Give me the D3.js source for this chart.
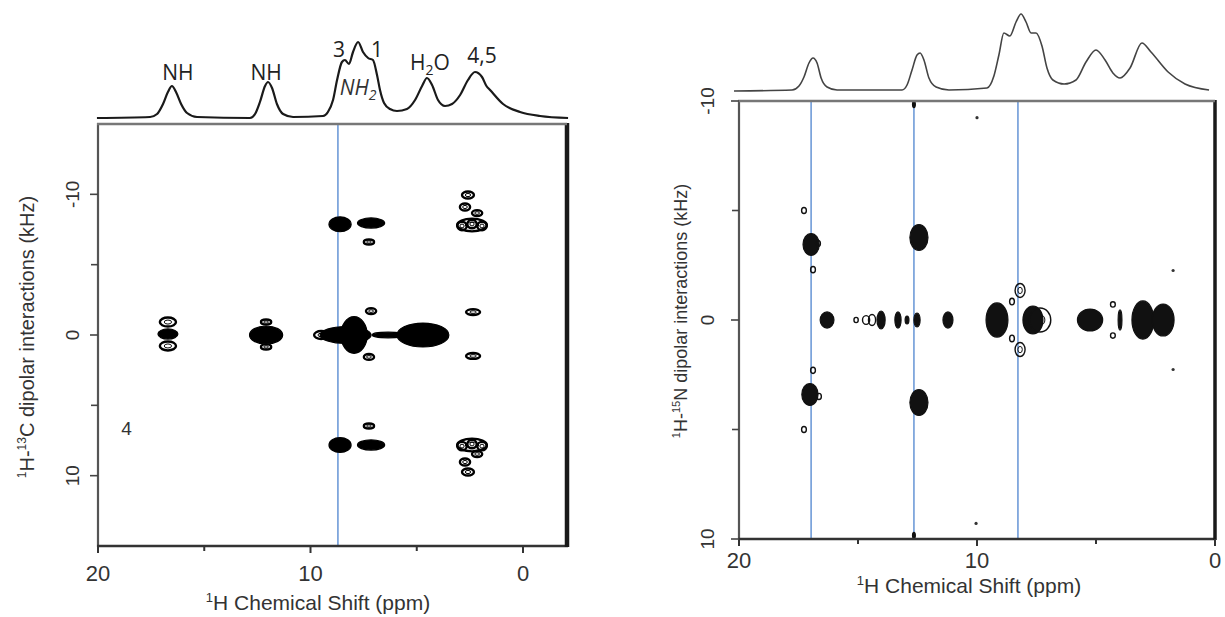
<!DOCTYPE html>
<html><head><meta charset="utf-8">
<script src="https://cdn.jsdelivr.net/npm/d3@7"></script>
<style>body{margin:0;background:#fff}svg{display:block}</style>
</head><body><svg id="c" width="1225" height="617"></svg>
<script>
// ---------- DATA ----------
// Left panel 1D 1H projection (ppm, arbitrary intensity)
const specLPpm = [20.05,17.55,17.22,16.94,16.71,16.52,16.33,16.09,15.81,15.34,12.85,12.61,12.38,12.14,12.0,11.81,11.58,11.29,10.82,9.41,9.18,8.94,8.75,8.52,8.38,8.19,8.0,7.76,7.53,7.29,7.06,6.87,6.73,6.54,6.26,5.93,5.46,5.08,4.75,4.52,4.28,4.0,3.67,3.34,2.96,2.59,2.26,1.93,1.72,1.55,0.94,0.14,-0.8,-2.12];
const specLInt = [0,1,4,14,26,32,26,14,5,1,0,4,16,32,36,30,14,4,1,2,6,18,38,56,58,54,66,76,66,60,58,43,28,15,9,7,9,18,32,40,33,18,12,14,23,38,46,41,32,28,14,6,2,0];
// Right panel 1D projection
const specRPpm = [20.21,17.77,17.48,17.27,17.06,16.89,16.72,16.55,16.3,15.88,13.15,12.94,12.73,12.52,12.39,12.23,12.02,11.72,11.18,9.58,9.29,9.08,8.87,8.62,8.36,8.15,7.94,7.73,7.52,7.27,7.06,6.81,6.34,5.84,5.42,5.0,4.62,4.29,3.99,3.57,3.07,2.69,1.97,1.26,0.25];
const specRInt = [0,1,5,14,28,33,28,13,4,1,1,6,21,36,38,31,13,4,1,3,15,36,58,55,69,77,69,58,58,45,23,11,7,11,29,41,31,18,13,23,48,39,19,7,1];

// Peak labels (left projection): text, ppm, label height (intensity units)
const labelText = ["NH","NH","3","1","NH2","H2O","4,5"];
const labelPpm  = [16.24,12.09,8.66,6.87,7.76,4.38,1.93];
const labelInt  = [38,38,61,61,23,48,55];

// 2D contours: [ppm, kHz, half-width ppm, half-height kHz]
const leftFilled = [
  [8.61,-7.87,0.52,0.53],[7.15,-7.96,0.64,0.36],[8.61,7.82,0.52,0.53],[7.15,7.82,0.64,0.36],
  [12.09,0,0.78,0.64],[8.35,0,1.2,0.6],[7.95,0,0.62,1.3],[6.35,0,0.75,0.2],[4.71,0,1.22,0.85],
  [16.71,-0.07,0.47,0.36]
];
const leftRings = [
  [7.25,-6.61,0.24,0.18],[7.25,6.47,0.24,0.18],
  [2.59,-9.95,0.28,0.25],[2.73,-9.1,0.24,0.25],[2.16,-8.67,0.24,0.21],[2.4,-7.82,0.7,0.45],
  [2.87,-7.75,0.22,0.3],[2.4,-7.89,0.22,0.3],[1.93,-7.75,0.22,0.3],
  [2.59,9.74,0.28,0.25],[2.73,9.03,0.24,0.25],[2.16,8.46,0.24,0.21],[2.4,7.82,0.7,0.45],
  [2.87,7.9,0.22,0.3],[2.4,7.75,0.22,0.3],[1.93,7.9,0.22,0.3],
  [16.71,-0.92,0.38,0.32],[16.71,0.78,0.38,0.32],
  [12.09,-0.92,0.24,0.18],[12.09,0.85,0.24,0.18],
  [9.5,0,0.33,0.28],
  [7.15,-1.7,0.24,0.21],[7.25,1.56,0.24,0.21],
  [2.35,-1.63,0.33,0.21],[2.35,1.49,0.33,0.21]
];
const rightFilled = [
  [16.3,0,0.29,0.37],[14.03,0,0.17,0.41],[13.32,0,0.13,0.37],[12.94,0,0.08,0.18],[12.52,0,0.13,0.32],
  [11.22,0,0.21,0.37],[9.16,0,0.46,0.78],[7.65,0,0.42,0.64],[5.25,0,0.53,0.5],[3.99,0,0.08,0.46],
  [3.03,0,0.46,0.87],[2.18,0,0.46,0.73],
  [16.97,-3.45,0.34,0.5],[17.02,3.4,0.34,0.5],[12.44,-3.77,0.38,0.59],[12.44,3.77,0.38,0.59],
  [12.65,-9.84,0.06,0.14],[12.65,9.84,0.06,0.14]
];
const rightRings = [
  [15.08,0,0.09,0.12],[14.66,0,0.15,0.2],[14.41,0,0.15,0.25],[7.35,0,0.45,0.55],
  [8.53,-0.84,0.1,0.15],[8.53,0.84,0.1,0.15],[8.19,-1.35,0.21,0.32],[8.19,1.35,0.21,0.32],
  [4.29,-0.71,0.1,0.12],[4.29,0.71,0.1,0.12],
  [17.27,-5.0,0.1,0.14],[16.68,-3.49,0.1,0.14],[16.89,-2.3,0.1,0.14],
  [16.89,2.3,0.1,0.14],[16.64,3.49,0.1,0.14],[17.27,5.0,0.1,0.14]
];
const rightDots = [[1.76,-2.26],[1.76,2.26],[10.0,-9.24],[10.04,9.29]];

const leftGuides = [8.71];
const rightGuides = [16.97,12.65,8.28];

const xMajor = [20,10,0];
const xMinor = [15,5];
const yMajorLeft = [-10,0,10];
const yMajorRight = [-10,0,10];
const yMinor = [-5,5];

// ---------- DRAW ----------
const svg = d3.select("#c");
const AX = "'Liberation Sans', Arial, sans-serif";
const LB = "'Open Sans', 'Noto Sans', sans-serif";

function drawPanel(o) {
  const g = svg.append("g");
  const x = o.x, y = o.y;
  const [x0, x1] = x.range(), [y0, y1] = y.range();

  g.selectAll(".guide").data(o.guides).join("line")
    .attr("x1", d => x(d)).attr("x2", d => x(d))
    .attr("y1", y0 - 1).attr("y2", y1)
    .attr("stroke", "#6f9bd8").attr("stroke-width", 1.6);

  const ell = (sel, d) => sel
    .attr("cx", x(d[0])).attr("cy", y(d[1]))
    .attr("rx", Math.abs(x(d[0] + d[2]) - x(d[0])))
    .attr("ry", Math.abs(y(d[1] + d[3]) - y(d[1])));

  g.selectAll(".f").data(o.filled).join("ellipse")
    .each(function(d){ ell(d3.select(this), d); })
    .attr("fill", o.ink).attr("stroke", o.ink).attr("stroke-width", 1.2);
  g.selectAll(".r").data(o.rings).join("ellipse")
    .each(function(d){ ell(d3.select(this), d); })
    .attr("fill", "none").attr("stroke", o.ink).attr("stroke-width", o.ringW);
  g.selectAll(".ri").data(o.rings.filter(d => Math.abs(x(d[0]+d[2])-x(d[0])) > 4)).join("ellipse")
    .each(function(d){ ell(d3.select(this), [d[0], d[1], d[2]*0.45, d[3]*0.45]); })
    .attr("fill", "none").attr("stroke", o.ink).attr("stroke-width", 1);
  g.selectAll(".dt").data(o.dots).join("circle")
    .attr("cx", d => x(d[0])).attr("cy", d => y(d[1])).attr("r", 1.6).attr("fill", "#333");

  // frame
  g.append("line").attr("x1", x0).attr("x2", x0).attr("y1", y0 - 1).attr("y2", y1 + 1).attr("stroke", "#555").attr("stroke-width", 2.2);
  g.append("line").attr("x1", x0 - 1).attr("x2", x1 + 1).attr("y1", y1).attr("y2", y1).attr("stroke", "#333").attr("stroke-width", 2.5);
  g.append("line").attr("x1", x1).attr("x2", x1).attr("y1", y0 - 1).attr("y2", y1 + 1).attr("stroke", "#1a1a1a").attr("stroke-width", o.rightW);
  g.append("line").attr("x1", x0 - 1).attr("x2", x1).attr("y1", y0).attr("y2", y0).attr("stroke", "#777").attr("stroke-width", 2.5);

  // ticks
  g.selectAll(".xt").data(xMajor.concat(xMinor)).join("line")
    .attr("x1", d => x(d)).attr("x2", d => x(d)).attr("y1", y1).attr("y2", d => y1 + (xMajor.includes(d) ? 7 : 5))
    .attr("stroke", "#333").attr("stroke-width", 2);
  g.selectAll(".yt").data(o.yMajor.concat(yMinor)).join("line")
    .attr("y1", d => y(d)).attr("y2", d => y(d)).attr("x1", x0).attr("x2", d => x0 - (o.yMajor.includes(d) ? 8 : 7))
    .attr("stroke", "#444").attr("stroke-width", 1.6);

  // tick labels
  g.selectAll(".xl").data(xMajor).join("text")
    .attr("x", d => x(d)).attr("y", o.xLabY).attr("text-anchor", "middle")
    .attr("font-family", AX).attr("font-size", 22).attr("fill", "#333").text(d => d);
  g.selectAll(".yl").data(o.yMajor).join("text")
    .attr("transform", d => `translate(${o.yLabX},${y(d)}) rotate(-90)`).attr("text-anchor", "middle")
    .attr("font-family", AX).attr("font-size", 19).attr("fill", "#333").text(d => d);

  // axis titles
  const xt = g.append("text").attr("x", o.xTitleX).attr("y", o.xTitleY).attr("text-anchor", "middle")
    .attr("font-family", AX).attr("font-size", 21).attr("fill", "#333");
  xt.append("tspan").attr("font-size", 13).attr("dy", -8).text("1");
  xt.append("tspan").attr("dy", 8).text("H Chemical Shift (ppm)");

  const yt = g.append("text").attr("transform", `translate(${o.yTitleX},${o.yTitleY}) rotate(-90)`)
    .attr("text-anchor", "middle").attr("font-family", AX).attr("font-size", o.yTitleSize).attr("fill", "#333");
  const ss = Math.round(o.yTitleSize * 0.6), sh = Math.round(o.yTitleSize * 0.38);
  yt.append("tspan").attr("font-size", ss).attr("dy", -sh).text("1");
  yt.append("tspan").attr("dy", sh).text("H-");
  yt.append("tspan").attr("font-size", ss).attr("dy", -sh).text(o.nucMass);
  yt.append("tspan").attr("dy", sh).text(o.nuc + " dipolar interactions (kHz)");

  // projection spectrum
  const ys = o.ySpec;
  const pts = o.specPpm.map((p, i) => [x(p), ys(o.specInt[i])]);
  g.append("path").attr("d", d3.line().curve(d3.curveMonotoneX)(pts))
    .attr("fill", "none").attr("stroke", o.specColor).attr("stroke-width", o.specW);
  return g;
}

// Left panel
const xL = d3.scaleLinear([20, -2.07], [98, 567]);
const yL = d3.scaleLinear([-15, 15], [124, 546]);
const ySpecL = d3.scaleLinear([0, 80], [118, 38]);
const gL = drawPanel({
  x: xL, y: yL, guides: leftGuides, filled: leftFilled, rings: leftRings, dots: [],
  ink: "#000", ringW: 2.4, rightW: 4.5, yMajor: yMajorLeft,
  xLabY: 581, yLabX: 79, xTitleX: 318, xTitleY: 610,
  yTitleX: 34, yTitleY: 337, yTitleSize: 20, nucMass: "13", nuc: "C",
  ySpec: ySpecL, specPpm: specLPpm, specInt: specLInt, specColor: "#1a1a1a", specW: 2.2
});
gL.append("text").attr("x", xL(18.66)).attr("y", yL(7.1)).attr("text-anchor", "middle")
  .attr("font-family", AX).attr("font-size", 19).attr("fill", "#333").text("4");

const labG = gL.append("g").attr("font-family", LB).attr("font-size", 21).attr("fill", "#222").attr("text-anchor", "middle");
labelText.forEach((t, i) => {
  const tx = labG.append("text").attr("x", xL(labelPpm[i])).attr("y", ySpecL(labelInt[i]));
  if (t === "NH2") {
    tx.attr("font-style", "italic").attr("fill", "#333");
    tx.append("tspan").text("NH");
    tx.append("tspan").attr("font-size", 14).attr("dy", 5).text("2");
  } else if (t === "H2O") {
    tx.append("tspan").text("H");
    tx.append("tspan").attr("font-size", 14).attr("dy", 5).text("2");
    tx.append("tspan").attr("dy", -5).text("O");
  } else tx.text(t);
});

// Right panel
const xR = d3.scaleLinear([20, 0], [739, 1215]);
const yR = d3.scaleLinear([-10, 10], [101, 539]);
const ySpecR = d3.scaleLinear([0, 77], [91, 14]);
drawPanel({
  x: xR, y: yR, guides: rightGuides, filled: rightFilled, rings: rightRings, dots: rightDots,
  ink: "#111", ringW: 1.4, rightW: 3.5, yMajor: yMajorRight,
  xLabY: 568, yLabX: 714, xTitleX: 969, xTitleY: 593,
  yTitleX: 687, yTitleY: 311, yTitleSize: 18, nucMass: "15", nuc: "N",
  ySpec: ySpecR, specPpm: specRPpm, specInt: specRInt, specColor: "#444", specW: 1.6
});
</script></body></html>
